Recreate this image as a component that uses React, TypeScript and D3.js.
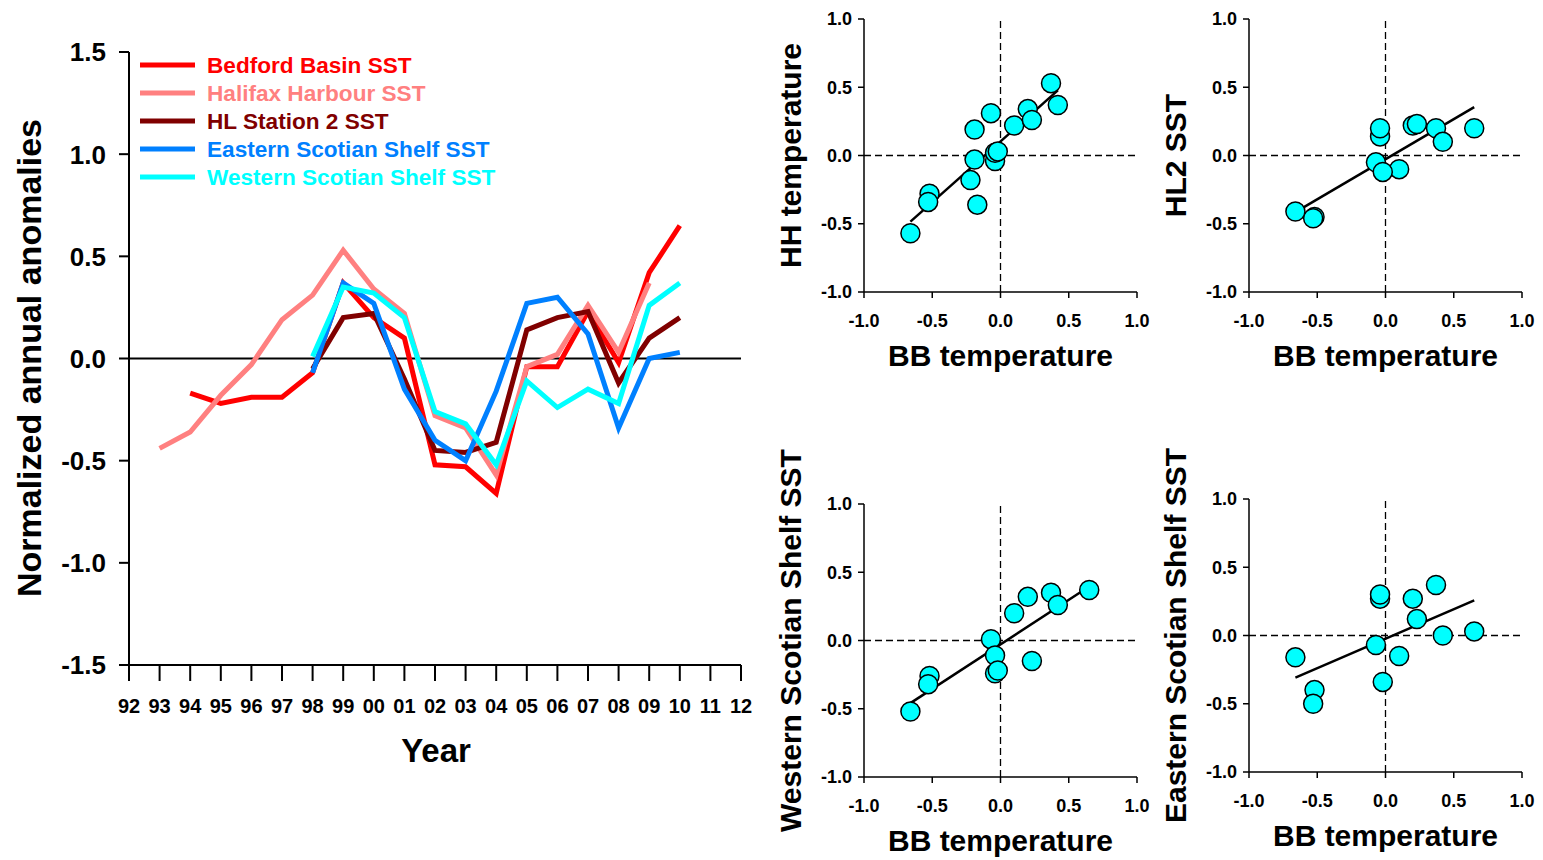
import React from 'react'
import * as d3 from 'd3'

// annual normalized anomalies
const yearLabels = ['92', '93', '94', '95', '96', '97', '98', '99', '00', '01', '02', '03', '04', '05', '06', '07', '08', '09', '10', '11', '12']
const yTickValues = [-1.5, -1.0, -0.5, 0.0, 0.5, 1.0, 1.5]
const scatterTicks = [-1.0, -0.5, 0.0, 0.5, 1.0]

const bedfordStart = 1994
const bedford = [-0.17, -0.22, -0.19, -0.19, -0.07, 0.37, 0.20, 0.10, -0.52, -0.53, -0.66, -0.04, -0.04, 0.23, -0.02, 0.42, 0.65]
const halifaxStart = 1993
const halifax = [-0.44, -0.36, -0.18, -0.03, 0.19, 0.31, 0.53, 0.34, 0.22, -0.28, -0.34, -0.57, -0.04, 0.02, 0.26, 0.03, 0.37]
const hl2Start = 1998
const hl2 = [-0.05, 0.20, 0.22, -0.10, -0.45, -0.46, -0.41, 0.14, 0.20, 0.23, -0.12, 0.10, 0.20]
const easternStart = 1998
const eastern = [-0.07, 0.37, 0.27, -0.15, -0.40, -0.50, -0.16, 0.27, 0.30, 0.12, -0.34, 0.00, 0.03]
const westernStart = 1998
const western = [0.01, 0.35, 0.32, 0.20, -0.26, -0.32, -0.52, -0.11, -0.24, -0.15, -0.22, 0.26, 0.37]

const series = [
  { name: 'Bedford Basin SST', color: '#ff0000', start: bedfordStart, values: bedford },
  { name: 'Halifax Harbour SST', color: '#ff8080', start: halifaxStart, values: halifax },
  { name: 'HL Station 2 SST', color: '#800000', start: hl2Start, values: hl2 },
  { name: 'Eastern Scotian Shelf SST', color: '#0080ff', start: easternStart, values: eastern },
  { name: 'Western Scotian Shelf SST', color: '#00ffff', start: westernStart, values: western },
]

const font = '"Liberation Sans", Arial, Helvetica, sans-serif'

type Pt = { year: number; v: number }
const toPoints = (start: number, values: number[]): Pt[] => values.map((v, i) => ({ year: start + i, v }))

// pair BB with another series by year
function pairs(start: number, values: number[]) {
  const bb = new Map(toPoints(bedfordStart, bedford).map(p => [p.year, p.v]))
  return toPoints(start, values)
    .filter(p => bb.has(p.year))
    .map(p => ({ x: bb.get(p.year) as number, y: p.v }))
}

function fit(pts: { x: number; y: number }[]) {
  const mx = d3.mean(pts, p => p.x) as number
  const my = d3.mean(pts, p => p.y) as number
  const sxy = d3.sum(pts, p => (p.x - mx) * (p.y - my))
  const sxx = d3.sum(pts, p => (p.x - mx) ** 2)
  const b = sxy / sxx
  const a = my - b * mx
  const [x0, x1] = d3.extent(pts, p => p.x) as [number, number]
  return [{ x: x0, y: a + b * x0 }, { x: x1, y: a + b * x1 }]
}

function LineChart() {
  const x = d3.scaleLinear().domain([1992, 2012]).range([129, 741])
  const y = d3.scaleLinear().domain([-1.5, 1.5]).range([665, 52])
  const line = d3.line<Pt>().x(d => x(d.year)).y(d => y(d.v))
  return (
    <g fontFamily={font} fontWeight="bold">
      <line x1={x(1992)} x2={x(2012)} y1={y(0)} y2={y(0)} stroke="#000" strokeWidth={2} />
      {series.map(s => (
        <path key={s.name} d={line(toPoints(s.start, s.values)) || ''} fill="none" stroke={s.color} strokeWidth={5} strokeLinejoin="miter" />
      ))}
      <line x1={x(1992)} x2={x(1992)} y1={y(-1.5)} y2={y(1.5)} stroke="#000" strokeWidth={2} />
      <line x1={x(1992)} x2={x(2012)} y1={y(-1.5)} y2={y(-1.5)} stroke="#000" strokeWidth={2} />
      {yTickValues.map(t => (
        <g key={t}>
          <line x1={x(1992) - 10} x2={x(1992)} y1={y(t)} y2={y(t)} stroke="#000" strokeWidth={2} />
          <text x={x(1992) - 23} y={y(t)} dy="0.36em" textAnchor="end" fontSize={26}>{t.toFixed(1)}</text>
        </g>
      ))}
      {yearLabels.map((lab, i) => (
        <g key={lab}>
          <line x1={x(1992 + i)} x2={x(1992 + i)} y1={y(-1.5)} y2={y(-1.5) + 16} stroke="#000" strokeWidth={2} />
          <text x={x(1992 + i)} y={713} textAnchor="middle" fontSize={20}>{lab}</text>
        </g>
      ))}
      <text x={436} y={762} textAnchor="middle" fontSize={33}>Year</text>
      <text transform={`translate(41,358) rotate(-90)`} textAnchor="middle" fontSize={34}>Normalized annual anomalies</text>
      {series.map((s, i) => (
        <g key={s.name}>
          <line x1={140} x2={195} y1={65 + i * 28} y2={65 + i * 28} stroke={s.color} strokeWidth={5} />
          <text x={207} y={73 + i * 28} fontSize={22.6} fill={s.color}>{s.name}</text>
        </g>
      ))}
    </g>
  )
}

function Scatter({ x0, y0, ylabel, start, values }: { x0: number; y0: number; ylabel: string; start: number; values: number[] }) {
  const size = 273
  const x = d3.scaleLinear().domain([-1, 1]).range([x0, x0 + size])
  const y = d3.scaleLinear().domain([-1, 1]).range([y0 + size, y0])
  const pts = pairs(start, values)
  const reg = fit(pts)
  return (
    <g fontFamily={font} fontWeight="bold">
      <line x1={x(-1)} x2={x(1)} y1={y(0)} y2={y(0)} stroke="#000" strokeWidth={1.3} strokeDasharray="7,4" />
      <line x1={x(0)} x2={x(0)} y1={y(-1)} y2={y(1)} stroke="#000" strokeWidth={1.3} strokeDasharray="7,4" />
      <line x1={x(-1)} x2={x(-1)} y1={y(-1)} y2={y(1)} stroke="#000" strokeWidth={1.5} />
      <line x1={x(-1)} x2={x(1)} y1={y(-1)} y2={y(-1)} stroke="#000" strokeWidth={1.5} />
      {scatterTicks.map(t => (
        <g key={t}>
          <line x1={x(-1) - 6} x2={x(-1)} y1={y(t)} y2={y(t)} stroke="#000" strokeWidth={1.5} />
          <text x={x(-1) - 12} y={y(t)} dy="0.36em" textAnchor="end" fontSize={18}>{t.toFixed(1)}</text>
          <line x1={x(t)} x2={x(t)} y1={y(-1)} y2={y(-1) + 6} stroke="#000" strokeWidth={1.5} />
          <text x={x(t)} y={y(-1) + 35} textAnchor="middle" fontSize={18}>{t.toFixed(1)}</text>
        </g>
      ))}
      <line x1={x(reg[0].x)} x2={x(reg[1].x)} y1={y(reg[0].y)} y2={y(reg[1].y)} stroke="#000" strokeWidth={2.5} />
      {pts.map((p, i) => (
        <circle key={i} cx={x(p.x)} cy={y(p.y)} r={9.5} fill="#00ffff" stroke="#000" strokeWidth={1.5} />
      ))}
      <text x={x(0)} y={y(-1) + 74} textAnchor="middle" fontSize={30}>BB temperature</text>
      <text transform={`translate(${x(-1) - 63},${y(0)}) rotate(-90)`} textAnchor="middle" fontSize={30}>{ylabel}</text>
    </g>
  )
}

export default function App() {
  return (
    <svg width={1543} height={860} style={{ position: 'absolute', left: 0, top: 0, background: '#fff' }}>
      <rect width={1543} height={860} fill="#fff" />
      <LineChart />
      <Scatter x0={864} y0={19} ylabel="HH temperature" start={halifaxStart} values={halifax} />
      <Scatter x0={1249} y0={19} ylabel="HL2 SST" start={hl2Start} values={hl2} />
      <Scatter x0={864} y0={504} ylabel="Western Scotian Shelf SST" start={westernStart} values={western} />
      <Scatter x0={1249} y0={499} ylabel="Eastern Scotian Shelf SST" start={easternStart} values={eastern} />
    </svg>
  )
}
